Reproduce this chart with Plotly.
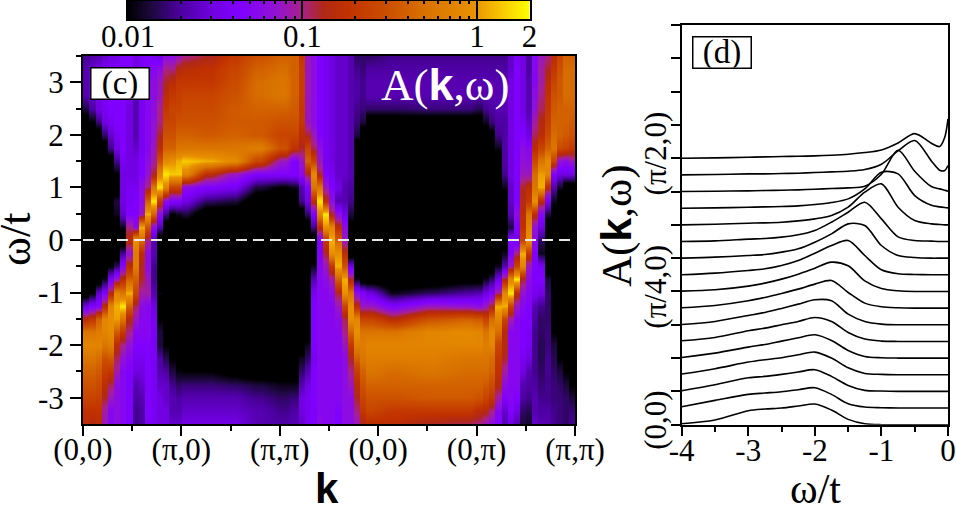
import numpy as np
import plotly.graph_objects as go

W, H = 956, 511

# ---------- panel (c): log10(A)*10, one list per k stripe ----------
omega_rows = [3.5,3.25,3,2.75,2.5,2.25,2,1.75,1.5,1.25,1,.75,.5,.25,0,-.25,-.5,-.75,-1,-1.25,-1.5,-1.75,-2,-2.25,-2.5,-2.75,-3,-3.25,-3.5]
stripe_ids = [0,1,2,3,4,5,6,7,8,9,10,11,12,13,14,15,16,20,24,28,32,34,35,36,37,38,39,40,41,42,43,44,45,46,50,56,62,64,65,66,67,68,69,70,71,72,73,74,75,76,77,78,79]
stripes = [
[-16,-15,-15,-15,-18,-22,-22, -22,-22,-22,-22,-22,-22,-22, -22,-22,-22,-22,-22,-14,-8, -3,-2,-3,-4,-5,-6,-7.5,-8],
[-15.5,-14.5,-14.5,-14.5,-15.5,-20,-22, -22,-22,-22,-22,-22,-22,-22, -22,-22,-22,-22,-20,-13,-7, -3,-2,-3,-4,-5,-6,-7.5,-8.5],
[-15,-14,-14,-14,-14,-16.5,-22, -22,-22,-22,-22,-22,-22,-22, -22,-22,-22,-22,-14.5,-12.5,-4, -2.5,-2,-3.5,-4.5,-5.5,-6.5,-7.5,-8],
[-14.5,-13.5,-13.5,-13.5,-13.5,-14,-17, -22,-22,-22,-22,-22,-22,-22, -22,-22,-22,-19,-13,-8,-2, -2,-3,-5,-6.5,-8,-9,-10.5,-11],
[-14,-13.5,-13,-13,-13,-13.5,-14.5, -16,-22,-22,-22,-22,-22,-22, -22,-22,-20,-13.5,-8.5,-2,-1, -1.5,-2.5,-4.5,-7,-9.5,-11,-12.5,-12.5],
[-14,-13,-13,-13,-13,-13,-13.5, -14,-16,-20,-22,-18,-19,-22, -22,-22,-17,-11,-2,0,-.5, -4.5,-8,-9.5,-10.5,-12,-12,-12,-12],
[-13,-13,-13,-13,-13,-13,-13, -13,-13.5,-14,-14,-14,-14.5,-19, -22,-16,-12.5,-8,-3,1,-3, -7,-10,-11.5,-12.5,-12.5,-12.5,-12.5,-12.5],
[-13,-13,-13,-13.5,-14,-14,-14, -14,-14,-14,-13.5,-13.5,-13,-10, -8,-11.5,-8,-4,0,-4,-8.5, -10,-11.5,-12.5,-13,-13,-13,-13,-13],
[-14,-14,-14.5,-15,-15,-15,-15, -14.5,-14,-14,-13.5,-13,-13,-12, -1,-2.5,-2.5,-4,-6,-9.5,-11, -12.5,-13,-13.5,-14,-15,-15.5,-16,-16],
[-13.5,-13.5,-13.5,-13.5,-13.5,-13.5,-13.5, -13.5,-13,-13,-12,-12,-11,0, -3.5,-8,-9,-9,-10.5,-12,-12.5, -12.5,-13,-13.5,-14,-14.5,-15,-15.5,-15.5],
[-13,-13,-12.5,-12.5,-12.5,-12.5,-12.5, -12.5,-12,-11.5,-10,-4,0,-5, -10,-12,-12,-11,-10.5,-12.5,-12.5, -12.5,-13,-13,-13,-13,-13,-13,-13.5],
[-13.5,-12.5,-12,-12,-12,-11.5,-11.5, -11,-10.5,-9,-3,1,-4,-12, -15,-15,-16,-16,-15,-14,-13.5, -13.5,-13.5,-13.5,-13.5,-13.5,-13.5,-13.5,-13.5],
[-14,-12,-11,-11,-10,-10,-9, -8,-5,-2,1,-7,-12,-15, -22,-22,-22,-22,-19.5,-22,-20, -18,-18,-15.5,-15,-14.5,-14,-14,-14],
[-12,-10,-9,-8,-7,-6,-5, -4,-1.5,1,-2,-12,-16,-22, -22,-22,-22,-22,-22,-22,-22, -22,-20,-17.5,-15.5,-14.5,-14.5,-14,-14],
[-12,-10,-8,-7,-6,-6,-5, -4,-1,.5,-6,-13,-20,-22, -22,-22,-22,-22,-22,-22,-22, -22,-22,-20,-18,-16,-15,-15,-14.5],
[-11,-8.5,-7,-6.5,-6,-5,-4, -3,0,.5,-6,-13,-19,-22, -22,-22,-22,-22,-22,-22,-22, -22,-22,-22,-19.5,-17,-15.5,-15,-14.5],
[-10,-8,-7,-6,-5.5,-5,-4, -3,.5,-2,-12,-14,-18,-22, -22,-22,-22,-22,-22,-22,-22, -22,-22,-22,-20,-16.5,-15,-14.5,-14],
[-9,-7.5,-7,-6,-5.5,-5,-4.5, -3,0,-8,-13,-17,-22,-22, -22,-22,-22,-22,-22,-22,-22, -22,-22,-22,-20,-16.5,-15,-14.5,-14],
[-7,-6,-5.5,-5,-4.5,-4.5,-4, -3,-1.5,-11,-13.5,-18,-22,-22, -22,-22,-22,-22,-22,-22,-22, -22,-22,-22,-21,-17,-15,-14.5,-14],
[-5,-4,-3.5,-3.5,-4,-4.5,-4.5, -2.5,-6,-13,-18,-22,-22,-22, -22,-22,-22,-22,-22,-22,-22, -22,-22,-22,-22,-18,-16,-15,-15],
[-4,-3.5,-3,-3,-4,-5,-6, -5,-11,-13,-20,-22,-22,-22, -22,-22,-22,-22,-22,-22,-22, -22,-22,-22,-22,-19,-17,-16,-15.5],
[-4,-4,-4,-4,-4.5,-5,-6, -7.5,-13,-13,-19,-22,-22,-22, -22,-22,-22,-22,-22,-22,-22, -22,-22,-22,-22,-19,-16.5,-15.5,-15],
[-7,-6.5,-6.5,-6.5,-7,-7,-8, -9,-11,-12,-15,-16,-22,-22, -22,-22,-22,-22,-22,-22,-22, -22,-22,-19,-17,-15,-14,-14,-14.5],
[-11,-11,-11,-11,-11,-11,-9, -6,-4,-9,-13,-14,-17,-22, -22,-22,-22,-22,-22,-22,-22, -22,-19,-17,-15,-14,-13.5,-13.5,-13.5],
[-12,-12,-12,-12,-12,-12,-11, -9.5,-6,-1.5,-3,-8,-13,-16, -22,-22,-19,-15,-13.5,-13,-13, -13,-13,-13.5,-13,-13,-13,-13,-13],
[-13,-13,-13,-13,-13,-13,-13, -12,-11,-9,-3,1,-2,-8, -13,-13,-12.5,-12.5,-12.5,-12.5,-12.5, -12.5,-12.5,-12.5,-12.5,-12.5,-12.5,-12.5,-12],
[-13.5,-13.5,-13.5,-13.5,-13.5,-13.5,-13.5, -13.5,-13.5,-13,-11,-8,1,-1, -7,-9,-11,-12,-12.5,-12.5,-12.5, -12.5,-12.5,-12.5,-12.5,-12.5,-12.5,-12.5,-12.5],
[-14,-14,-14,-14,-14,-14,-14, -14,-14,-13.5,-13,-12,-9,-2, 0,-1,-7,-10.5,-12,-12.5,-12.5, -12.5,-12.5,-12.5,-12.5,-12.5,-12.5,-12.5,-12.5],
[-14.5,-14.5,-14.5,-14.5,-14.5,-14.5,-14.5, -14.5,-14.5,-14.5,-14,-15,-12,-8, -4,-1,0,-4,-9,-11,-12, -12.5,-12.5,-12.5,-12.5,-12.5,-12.5,-13,-13],
[-14.5,-14.5,-14.5,-14.5,-14.5,-14.5,-14.5, -14.5,-14.5,-14.5,-15,-15,-14,-12, -11,-8,-5,0,-1,-6,-9.5, -10,-11,-12,-12,-12,-12,-12,-12],
[-15,-15,-15,-15,-15,-15,-15, -15,-15,-15,-15.5,-16,-18,-21, -22,-22,-14,-9,-3,-1,-1, -4,-7,-9,-10,-11,-12,-12,-12],
[-17,-16,-15.5,-15.5,-16,-16.5,-18, -22,-22,-22,-22,-22,-22,-22, -22,-22,-22,-19,-12,-8,-2, -1,-2.5,-4,-6.5,-8,-9,-10,-11],
[-17,-16.5,-16,-16,-16.5,-18,-22, -22,-22,-22,-22,-22,-22,-22, -22,-22,-22,-22,-13,-11,-6, -3,-2.5,-3,-4,-5,-6,-7,-9],
[-17,-15.5,-15,-15,-17,-22,-22, -22,-22,-22,-22,-22,-22,-22, -22,-22,-22,-22,-14,-11,-6, -3,-2,-2.5,-3,-4,-5,-6,-8],
[-16,-15.5,-15,-15,-17,-22,-22, -22,-22,-22,-22,-22,-22,-22, -22,-22,-22,-22,-19,-13,-8, -3,-2,-2.5,-3.5,-4,-5,-7,-8],
[-16,-15.5,-15,-15,-16.5,-22,-22, -22,-22,-22,-22,-22,-22,-22, -22,-22,-22,-22,-17,-11,-5, -2,-2,-2.5,-3,-4,-4.5,-7,-9],
[-16,-15.5,-15,-15,-16.5,-22,-22, -22,-22,-22,-22,-22,-22,-22, -22,-22,-22,-21,-15.5,-11.5,-4, -1.5,-2,-3,-3.5,-4,-4.5,-7,-9.5],
[-16,-15.5,-15,-15,-17.5,-22,-22, -22,-22,-22,-22,-22,-22,-22, -22,-22,-22,-21,-15,-12,-4.5, -2,-2,-3,-3.5,-4,-5,-8,-10],
[-16,-15.5,-15,-15,-16,-19,-22, -22,-22,-22,-22,-22,-22,-22, -22,-22,-22,-19,-14,-11,-6, -3,-2.5,-3,-3.5,-4.5,-6,-8.5,-11],
[-16,-15.5,-15,-15,-15.5,-16.5,-21, -22,-22,-22,-22,-22,-22,-22, -22,-22,-22,-17,-13,-9,-3.5, -1.5,-2,-3.5,-4,-5.5,-7,-10,-12],
[-16,-15.5,-15,-15,-15,-15.5,-16, -19,-22,-22,-22,-22,-22,-22, -22,-22,-19,-14,-10,0,-2, -3.5,-6,-7,-7.5,-8.5,-10.5,-12.5,-13],
[-16,-15.5,-15,-15,-15,-15.5,-15.5, -15.5,-15.5,-16,-19,-22,-22,-22, -22,-19,-15,-9,-2,0,-6, -8.5,-8.5,-9,-10.5,-12,-13,-14.5,-15],
[-14.5,-14.5,-14,-14,-14,-14,-14, -14,-14,-14,-14.5,-14.5,-15,-18, -13,-13,-11,-2,1,-6,-10.5, -12.5,-12.5,-12.5,-12.5,-12.5,-12.5,-13,-14],
[-13.5,-13,-13,-13,-13,-13,-13, -13,-13,-13,-13,-13,-12,-13, -14,-10,-6,1,-8,-11,-12.5, -12.5,-12.5,-12.5,-12.5,-12.5,-13,-14,-15],
[-14,-14,-14,-14,-14,-13.5,-13, -12,-11.5,-11,-9,-8.5,-8,-7.5, -6,0,-2,-9,-11.5,-12.5,-13, -13,-13,-13.5,-14,-15,-15.5,-17,-18],
[-15.5,-15.5,-15,-15,-15,-14.5,-14, -12.5,-12,-11,-8,-7,-3,-2, -1,-7,-11,-12,-12.5,-13,-13, -13.5,-13.5,-14,-15,-15.5,-16,-17.5,-18.5],
[-12.5,-12.5,-12.5,-12,-11.5,-10.5,-9.5, -8,-5.5,-3.5,-3,-1,-8,-11.5, -12,-13,-13,-13,-13.5,-15,-15.5, -16,-16,-16,-16,-15.5,-15,-15,-14.5],
[-11,-10.5,-10.5,-10,-9.5,-8.5,-8, -6,-3,-.5,0,-8,-12.5,-14, -17,-19,-13.5,-13,-14,-16,-17, -17,-17.5,-17.5,-17,-16.5,-16,-15.5,-15],
[-10,-9,-8,-7.5,-7,-6.5,-5.5, -4,-1.5,-2,-8,-13.5,-18,-22, -22,-22,-22,-18,-17,-17,-17, -16.5,-16.5,-16,-16,-16,-16,-15.5,-15],
[-8,-7,-6,-5,-4.5,-4,-3.5, -3,-6,-13,-15,-19,-22,-22, -22,-22,-22,-22,-22,-22,-22, -20,-18,-17.5,-17,-16.5,-16.5,-16,-16],
[-6,-5,-4.5,-4.5,-4,-4,-4, -5.5,-11.5,-14,-18.5,-22,-22,-22, -22,-22,-22,-22,-22,-22,-22, -22,-22,-20,-18,-17,-16.5,-16.5,-16.5],
[-4,-3.5,-3.5,-3.5,-4,-4,-4.5, -6,-12,-14,-22,-22,-22,-22, -22,-22,-22,-22,-22,-22,-22, -22,-22,-22,-20,-18,-17,-17,-17],
[-4,-3.5,-3.5,-3.5,-4,-4.5,-5, -7,-11,-14,-22,-22,-22,-22, -22,-22,-22,-22,-22,-22,-22, -22,-22,-22,-22,-20,-18,-16.5,-16],
]
# calibration of the eye readings above against the colour bar (reading -> log10(A)*10)
read_scale = [-22,-20,-17,-16,-15,-14,-13,-12,-10,-4,-2,-1,0,1]
true_scale = [-22,-20,-18,-17.3,-16.5,-15,-13.5,-12.2,-10,-4,-1.2,-.3,.7,2.3]
k_ticks = [0,1,2,3,4,5]
k_labels = ["(0,0)","(π,0)","(π,π)","(0,0)","(0,π)","(π,π)"]
k_minor = [.5,1.5,2.5,3.5,4.5]
cbar_major = [0.01,0.1,1,2]
cbar_minor = [.02,.03,.04,.05,.06,.07,.08,.09,.2,.3,.4,.5,.6,.7,.8,.9]
palette = [[0,"#000000"],[.06,"#1e0840"],[.13,"#4c00a0"],[.21,"#7000e0"],[.28,"#8000ff"],[.36,"#9010d8"],[.43,"#a82090"],
           [.486,"#b02818"],[.54,"#c03000"],[.65,"#cc5000"],[.735,"#d87000"],[.86,"#e89000"],[.93,"#f8c800"],[1,"#ffff00"]]

# ---------- panel (d): spectral curves, height above each curve's own baseline ----------
omega_d = [-4,-3.5,-3,-2.75,-2.5,-2.25,-2,-1.75,-1.5,-1.25,-1,-.75,-.5,-.25,-.125,-.05,0]
curves = [
[.03,.14,.42,.47,.50,.56,.62,.44,.16,.03,0,0,0,0,0,0,0],
[.04,.23,.41,.45,.49,.55,.61,.41,.13,.03,.01,0,0,0,0,0,0],
[.02,.20,.41,.45,.51,.58,.65,.45,.18,.03,.01,0,0,0,0,0,0],
[.02,.18,.38,.45,.51,.60,.68,.50,.21,.04,.01,0,0,0,0,0,0],
[.02,.15,.33,.41,.51,.61,.70,.53,.23,.05,.01,0,0,0,0,0,0],
[.02,.12,.32,.40,.50,.60,.72,.60,.27,.07,.01,0,0,0,0,0,0],
[.01,.10,.28,.37,.49,.62,.75,.72,.32,.10,.02,0,0,0,0,0,0],
[.01,.08,.22,.32,.44,.57,.72,.83,.47,.15,.04,.01,0,0,0,0,0],
[.01,.05,.16,.25,.37,.52,.70,.88,.77,.32,.09,.02,0,0,0,0,0],
[0,.05,.13,.18,.28,.43,.65,.88,1.03,.58,.15,.03,.01,0,0,0,0],
[0,.03,.08,.11,.18,.28,.48,.73,1.03,.98,.38,.08,.02,0,0,0,0],
[0,.02,.07,.09,.13,.20,.33,.58,.88,1.18,.68,.14,.03,.01,0,0,0],
[0,.02,.05,.06,.08,.12,.18,.28,.53,.98,1.23,.53,.13,.03,.01,0,0],
[0,.01,.03,.04,.05,.07,.11,.17,.28,.58,1.08,1.03,.38,.09,.04,.02,.01],
[0,.01,.02,.03,.04,.05,.07,.09,.11,.16,.52,1.24,.61,.15,.08,.04,.01],
[0,.01,.03,.03,.04,.05,.07,.09,.11,.16,.32,.72,1.03,.42,.14,.13,.28],
[0,.01,.03,.04,.05,.06,.07,.09,.12,.17,.25,.46,.74,.45,.35,.62,1.18],
]
curve_step = 0.5
d_y_ticks = [0,1,2,3,4,5,6,7,8,9,10,11,12]
d_y_labels = ["(0,0)","","","","(π/4,0)","","","","(π/2,0)","","","",""]
d_x_ticks = [-4,-3,-2,-1,0]
d_x_minor = [-3.5,-2.5,-1.5,-.5]
y_ticks = [-3,-2,-1,0,1,2,3]
y_minor = [-2.5,-1.5,-.5,.5,1.5,2.5,3.5]

SERIF = "Liberation Serif"
def px(x): return x / W
def py(y): return 1 - y / H

fig = go.Figure()

# each stripe is given twice, at its left and right edge, so smoothing acts only along omega
Z = np.interp(np.array(stripes, dtype=float), read_scale, true_scale).T / 10
EDGE = 0.003
left_edges = np.array(stripe_ids) / 16 + EDGE
right_edges = (np.array(stripe_ids) + 1) / 16 - EDGE
K_full = np.ravel(np.column_stack([left_edges, right_edges]))
K_full[0], K_full[-1] = 0, 5
Z_full = np.repeat(Z, 2, axis=1)

LOGMIN, LOGMAX = -2, float(np.log10(2))
fig.add_trace(go.Heatmap(x=K_full, y=omega_rows, z=Z_full, zmin=LOGMIN, zmax=LOGMAX, zsmooth="best",
                         colorscale=palette, xaxis="x", yaxis="y", showscale=False, hoverinfo="skip"))
fig.add_trace(go.Scatter(x=[0,5], y=[0,0], mode="lines", xaxis="x", yaxis="y",
                         line=dict(color="#e8e8e8", width=2, dash="11px,6px"), showlegend=False, hoverinfo="skip"))
for i, c in enumerate(curves):
    fig.add_trace(go.Scatter(x=omega_d, y=np.array(c) + i*curve_step, mode="lines", xaxis="x2", yaxis="y2",
                             line=dict(color="black", width=1.6, shape="spline", smoothing=.85),
                             showlegend=False, hoverinfo="skip"))
# colour bar drawn as its own small log axis
ramp = np.linspace(LOGMIN, LOGMAX, 300)
fig.add_trace(go.Heatmap(x=ramp, y=[0,1], z=[ramp, ramp], zmin=LOGMIN, zmax=LOGMAX, colorscale=palette,
                         xaxis="x3", yaxis="y3", showscale=False, hoverinfo="skip"))

ax_common = dict(showgrid=False, zeroline=False, linecolor="black", linewidth=2, mirror=True, ticks="outside", automargin=False,
                 tickcolor="black", tickwidth=1.5, tickfont=dict(family=SERIF, size=31, color="black"))
minor_out = dict(ticks="outside", ticklen=5, tickwidth=1.5, tickcolor="black")
fig.update_layout(
    width=W, height=H, margin=dict(l=0, r=0, t=0, b=0, autoexpand=False), paper_bgcolor="white", plot_bgcolor="white", showlegend=False,
    xaxis=dict(domain=[px(83), px(575)], range=[0,5], tickmode="array", tickvals=k_ticks, ticktext=k_labels, ticklen=10,
               ticklabelstandoff=-13, minor=dict(tickmode="array", tickvals=k_minor, **minor_out), **ax_common),
    yaxis=dict(domain=[py(424), py(56)], range=[-3.5,3.5], tickmode="array", tickvals=y_ticks, ticklen=11,
               ticktext=[str(v) for v in y_ticks],
               minor=dict(tickmode="array", tickvals=y_minor, **minor_out), **ax_common),
    xaxis2=dict(domain=[px(681.7), px(948)], range=[-4,0], anchor="y2", tickmode="array", tickvals=d_x_ticks,
                ticktext=[str(v) for v in d_x_ticks], ticklen=9, ticklabelstandoff=-12,
                minor=dict(tickmode="array", tickvals=d_x_minor, **minor_out), **ax_common),
    yaxis2=dict(domain=[py(424.7), py(25)], range=[0,12], anchor="x2", tickmode="array", tickvals=d_y_ticks,
                ticktext=d_y_labels, tickangle=-90, ticklen=9, ticklabelstandoff=-8, **ax_common),
    xaxis3=dict(domain=[px(128), px(529.5)], range=[LOGMIN, LOGMAX], anchor="y3", tickmode="array", automargin=False,
                tickvals=[float(np.log10(v)) for v in cbar_major], ticktext=[str(v) for v in cbar_major],
                ticks="inside", ticklen=18, tickwidth=1.5, tickcolor="black", showgrid=False, zeroline=False,
                ticklabelstandoff=-11,
                linecolor="black", linewidth=2, mirror="ticks", tickfont=dict(family=SERIF, size=31, color="black"),
                minor=dict(tickmode="array", tickvals=[float(np.log10(v)) for v in cbar_minor],
                           ticks="inside", ticklen=3, tickwidth=1.5, tickcolor="black")),
    yaxis3=dict(domain=[py(19), py(1)], range=[0,1], anchor="x3", showticklabels=False, ticks="", showgrid=False, automargin=False,
                zeroline=False, linecolor="black", linewidth=2, mirror=True),
)

def note(x, y, text, size, color="black", angle=0, **kw):
    fig.add_annotation(xref="paper", yref="paper", x=px(x), y=py(y), text=text, showarrow=False, textangle=angle,
                       font=dict(family=SERIF, size=size, color=color), xanchor="center", yanchor="middle", **kw)

BOLD = '<span style="font-family:Liberation Sans;font-weight:bold">k</span>'
note(120, 83, "(c)", 33, bgcolor="white", bordercolor="black", borderwidth=1.5, width=57, height=30, borderpad=0)
note(722, 52, "(d)", 33, bgcolor="white", bordercolor="black", borderwidth=1.5, width=57, height=30, borderpad=0)
note(445, 85, f"A({BOLD},ω)", 45, color="white")
note(15, 240, "ω/t", 44, angle=-90)
note(327, 488, '<span style="font-family:Liberation Sans;font-weight:bold">k</span>', 42)
note(815, 489, "ω/t", 42)
note(616, 226, f"A({BOLD},ω)", 43, angle=-90)

fig.write_html("out.html", post_script="document.body.style.margin='0';", config={"displayModeBar": False})
